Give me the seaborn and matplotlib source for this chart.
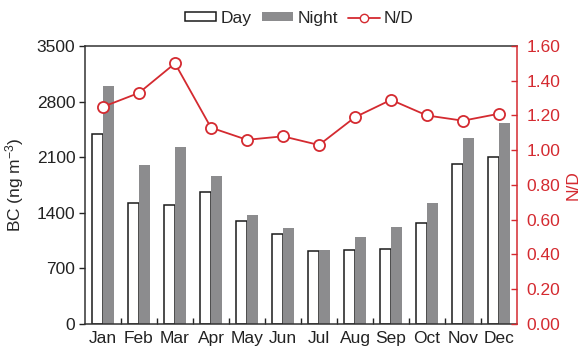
import numpy as np
import pandas as pd
import matplotlib
matplotlib.use("Agg")
import matplotlib.pyplot as plt
from matplotlib.patches import Patch
from matplotlib.lines import Line2D
from matplotlib.ticker import FixedLocator, FormatStrFormatter
import seaborn as sns

# Monthly black carbon concentrations (ng m^-3) and night/day ratio
months = ["Jan", "Feb", "Mar", "Apr", "May", "Jun",
          "Jul", "Aug", "Sep", "Oct", "Nov", "Dec"]
day_bc = [2390, 1518, 1493, 1665, 1296, 1129, 920, 932, 949, 1276, 2011, 2099]
night_bc = [2990, 2003, 2224, 1869, 1367, 1204, 932, 1095, 1217, 1522, 2346, 2525]
nd_ratio = [1.25, 1.33, 1.50, 1.13, 1.06, 1.08, 1.03, 1.19, 1.29, 1.20, 1.17, 1.21]

left_ticks = [0, 700, 1400, 2100, 2800, 3500]
right_ticks = [0.0, 0.2, 0.4, 0.6, 0.8, 1.0, 1.2, 1.4, 1.6]

RED = "#d42a30"
GRAY = "#8c8c8e"

sns.set_theme(style="ticks")
plt.rcParams["font.family"] = ["Liberation Sans", "DejaVu Sans"]
plt.rcParams["mathtext.fontset"] = "custom"
plt.rcParams["mathtext.rm"] = "Liberation Sans"
plt.rcParams["mathtext.it"] = "Liberation Sans:italic"

df = pd.DataFrame({
    "month": months * 2,
    "BC": day_bc + night_bc,
    "period": ["Day"] * len(months) + ["Night"] * len(months),
})

fig = plt.figure(figsize=(5.87, 3.51), dpi=100)
ax = fig.add_axes([0.1448, 0.077, 0.7359, 0.792])

sns.barplot(data=df, x="month", y="BC", hue="period", order=months,
            hue_order=["Day", "Night"],
            palette={"Day": "white", "Night": GRAY},
            width=0.6, gap=0, errorbar=None, legend=False, ax=ax)

# Day bars outlined in black, night bars solid gray
for bar in ax.containers[0]:
    bar.set_edgecolor("#1a1a1a")
    bar.set_linewidth(1.1)
for bar in ax.containers[1]:
    bar.set_edgecolor("none")

ax.set_xlim(-0.5, 11.5)
ax.set_ylim(0, 3500)
ax.set_yticks(left_ticks)
ax.set_xlabel("")
ax.set_ylabel("BC (ng m$^{-3}$)", fontsize=12.5, labelpad=8)
ax.tick_params(axis="y", direction="out", length=4, width=1, labelsize=12.5,
               colors="#222222", pad=3)
ax.tick_params(axis="x", which="major", length=0, labelsize=12.5, pad=5,
               colors="#222222")
ax.xaxis.set_minor_locator(FixedLocator(np.arange(0.5, 11, 1.0)))
ax.tick_params(axis="x", which="minor", direction="in", length=4, width=1,
               color="#222222")
for side in ["left", "bottom", "top"]:
    ax.spines[side].set_color("#333333")
    ax.spines[side].set_linewidth(1.1)
ax.spines["right"].set_visible(False)

# Night/day ratio on the secondary axis
ax2 = ax.twinx()
sns.lineplot(x=np.arange(len(months)), y=nd_ratio, ax=ax2, color=RED,
             linewidth=1.3, marker="o", markersize=8,
             markerfacecolor="white", markeredgecolor=RED,
             markeredgewidth=1.3)
ax2.set_xlim(-0.5, 11.5)
ax2.set_ylim(0, 1.6)
ax2.yaxis.set_major_locator(FixedLocator(right_ticks))
ax2.yaxis.set_major_formatter(FormatStrFormatter("%.2f"))
ax2.set_ylabel("N/D", color=RED, fontsize=12.5, labelpad=4)
ax2.tick_params(axis="y", direction="in", length=4, width=1, colors=RED,
                labelsize=12.5, pad=7)
ax2.spines["right"].set_color(RED)
ax2.spines["right"].set_linewidth(1.1)
for side in ["left", "top", "bottom"]:
    ax2.spines[side].set_visible(False)

handles = [
    Patch(facecolor="white", edgecolor="#1a1a1a", linewidth=1.1),
    Patch(facecolor=GRAY, edgecolor="none"),
    Line2D([], [], color=RED, linewidth=1.3, marker="o", markersize=6,
           markerfacecolor="white", markeredgecolor=RED),
]
fig.legend(handles, ["Day", "Night", "N/D"], loc="center",
           bbox_to_anchor=(0.51, 0.948), ncol=3, frameon=False,
           fontsize=12.5, handlelength=1.8, handleheight=0.35,
           handletextpad=0.25, columnspacing=0.6)

fig.savefig("out.png", dpi=100)
